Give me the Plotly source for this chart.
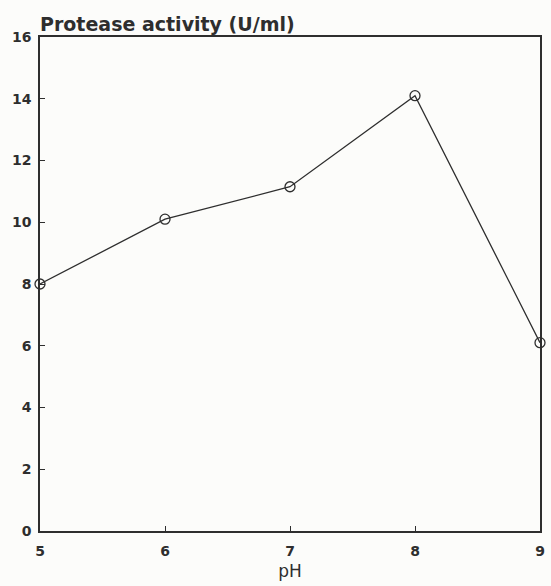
import plotly.graph_objects as go

ph = [5, 6, 7, 8, 9]
activity = [8.0, 10.1, 11.15, 14.1, 6.1]
x_ticks = [5, 6, 7, 8, 9]
y_ticks = [0, 2, 4, 6, 8, 10, 12, 14, 16]

ink = "#2e2e2e"
fnt = "DejaVu Sans, Arial, sans-serif"
fig = go.Figure()
fig.add_trace(go.Scatter(
    x=ph, y=activity, mode="lines+markers",
    line=dict(color=ink, width=1.3),
    marker=dict(symbol="circle-open", size=10, color=ink, line=dict(width=1.3)),
    cliponaxis=False, showlegend=False,
))
fig.update_layout(
    width=551, height=586,
    margin=dict(l=40, r=6, t=37, b=55),
    paper_bgcolor="#fcfcfa", plot_bgcolor="#fcfcfa",
    font=dict(family=fnt, size=14, color=ink, weight="bold"),
    xaxis=dict(range=[5, 9], tickvals=x_ticks, ticks="inside", ticklen=5,
               tickcolor=ink, showline=True, linecolor=ink, linewidth=1.5,
               mirror=True, showgrid=False, zeroline=False, ticklabelstandoff=6,
               title=dict(text="pH", standoff=8, font=dict(size=17, weight="normal")),
               tickfont=dict(size=14, weight="bold")),
    yaxis=dict(range=[0, 16], tickvals=y_ticks, ticks="inside", ticklen=5,
               tickcolor=ink, showline=True, linecolor=ink, linewidth=1.5,
               mirror=True, showgrid=False, zeroline=False, ticklabelstandoff=4,
               tickfont=dict(size=14, weight="bold")),
    annotations=[dict(text="Protease activity (U/ml)", xref="paper", yref="paper",
                      x=-0.005, y=1.0, xanchor="left", yanchor="bottom", yshift=0,
                      showarrow=False, font=dict(size=19, color=ink, weight="bold"))],
)
fig.write_html("out.html")
